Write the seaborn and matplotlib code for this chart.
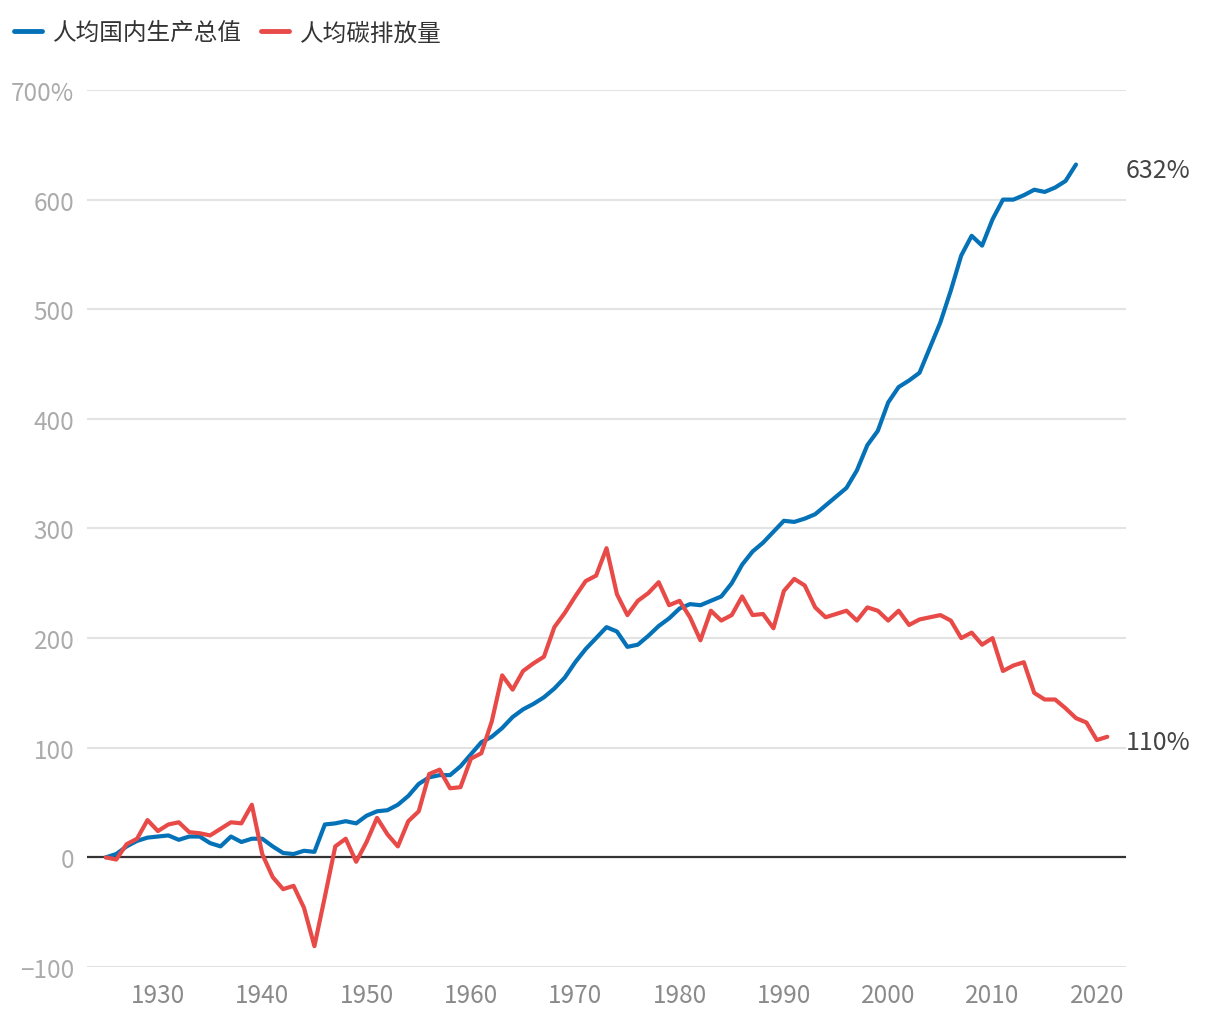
import numpy as np
import pandas as pd
import seaborn as sns
import matplotlib.pyplot as plt

# GDP per capita change vs 1925 (%), 1925-2018
gdp_years = list(range(1925, 2019))
gdp_vals = [0, 3, 10, 15, 18, 19, 20, 16, 19, 19,
            13, 10, 19, 14, 17, 17, 10, 4, 3, 6,
            5, 30, 31, 33, 31, 38, 42, 43, 48, 56,
            67, 73, 75, 75, 83, 94, 105, 110, 118, 128,
            135, 140, 146, 154, 164, 178, 190, 200, 210, 206,
            192, 194, 202, 211, 218, 227, 231, 230, 234, 238,
            250, 267, 279, 287, 297, 307, 306, 309, 313, 321,
            329, 337, 353, 376, 389, 415, 429, 435, 442, 465,
            488, 517, 549, 567, 558, 582, 600, 600, 604, 609,
            607, 611, 617, 632]

# CO2 per capita change vs 1925 (%), 1925-2021
co2_years = list(range(1925, 2022))
co2_vals = [0, -2, 12, 17, 34, 24, 30, 32, 23, 22,
            20, 26, 32, 31, 48, 3, -18, -29, -26, -46,
            -81, -36, 10, 17, -4, 14, 36, 21, 10, 33,
            42, 76, 80, 63, 64, 90, 95, 124, 166, 153,
            170, 177, 183, 210, 223, 238, 252, 257, 282, 240,
            221, 234, 241, 251, 230, 234, 219, 198, 225, 216,
            221, 238, 221, 222, 209, 243, 254, 248, 228, 219,
            222, 225, 216, 228, 225, 216, 225, 212, 217, 219,
            221, 216, 200, 205, 194, 200, 170, 175, 178, 150,
            144, 144, 136, 127, 123, 107, 110]

labels = ["人均国内生产总值", "人均碳排放量"]
colors = ["#0572b8", "#e84a47"]
yticks = [-100, 0, 100, 200, 300, 400, 500, 600, 700]
ytick_labels = ["\u2212100", "0", "100", "200", "300", "400", "500", "600", "700%"]
xticks = list(range(1930, 2021, 10))

df = pd.concat([
    pd.DataFrame({"year": gdp_years, "value": gdp_vals, "series": labels[0]}),
    pd.DataFrame({"year": co2_years, "value": co2_vals, "series": labels[1]}),
])

sns.set_style("white")
plt.rcParams["font.family"] = ["Noto Sans CJK SC", "DejaVu Sans"]

fig = plt.figure(figsize=(12.2, 10.2), dpi=100)
ax = fig.add_axes([0.0713, 0.051, 0.8517, 0.8598])

for y in yticks:
    if y != 0:
        ax.axhline(y, color="#e3e3e3", lw=1.5, zorder=0)
ax.axhline(0, color="#333333", lw=1.6, zorder=1)

sns.lineplot(data=df, x="year", y="value", hue="series", palette=colors,
             linewidth=3, ax=ax, legend=False, zorder=3)

ax.set_xlim(1923.2, 2022.8)
ax.set_ylim(-100, 700)
for s in ax.spines.values():
    s.set_visible(False)
ax.set_xlabel("")
ax.set_ylabel("")

ax.set_yticks(yticks)
ax.set_yticklabels(ytick_labels, fontsize=17.5, color="#ababab", fontweight="light")
ax.set_xticks(xticks)
ax.set_xticklabels([str(x) for x in xticks], fontsize=17.5, color="#8a8a8a", fontweight="light")
ax.tick_params(axis="both", length=0)
ax.tick_params(axis="y", pad=9)
ax.tick_params(axis="x", pad=11)

ax.annotate(f"{gdp_vals[-1]}%", xy=(1.0, gdp_vals[-1]), xycoords=("axes fraction", "data"),
            xytext=(0, -4), textcoords="offset points", ha="left", va="center",
            fontsize=18, color="#444444", fontweight="light")
ax.annotate(f"{co2_vals[-1]}%", xy=(1.0, co2_vals[-1]), xycoords=("axes fraction", "data"),
            xytext=(0, -4), textcoords="offset points", ha="left", va="center",
            fontsize=18, color="#444444", fontweight="light")

handles = [plt.Line2D([], [], color=c, lw=3.5, solid_capstyle="round") for c in colors]
fig.legend(handles, labels, loc="upper left", bbox_to_anchor=(0.0, 0.992), ncol=2,
           frameon=False, fontsize=17, handlelength=1.2, handletextpad=0.45,
           columnspacing=0.8, labelcolor="#333333", borderaxespad=0.3,
           borderpad=0.3)

fig.savefig("out.png", dpi=100, facecolor="white")
